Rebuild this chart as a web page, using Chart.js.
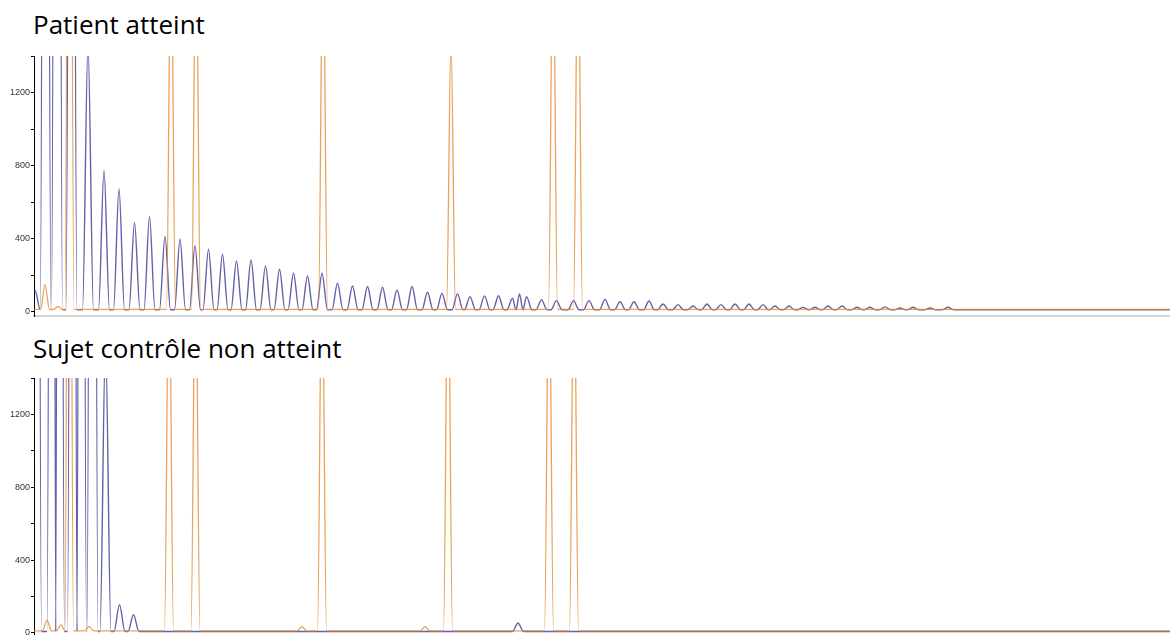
<!DOCTYPE html>
<html>
<head>
<meta charset="utf-8">
<script src="https://cdn.jsdelivr.net/npm/chart.js@4/dist/chart.umd.min.js"></script>
<style>
  html, body { margin: 0; padding: 0; background: #fff; overflow: hidden; }
  #page { position: relative; width: 1170px; height: 635px; }
  .title { position: absolute; left: 33px; font-family: "Open Sans", sans-serif; font-size: 26px; line-height: 26px; color: #000; white-space: nowrap; }
  canvas { position: absolute; left: 0; }
</style>
</head>
<body>
<div id="page">
  <div class="title" style="top: 11px;">Patient atteint</div>
  <canvas id="chart-patient" width="1170" height="280" style="top: 46px;"></canvas>
  <div class="title" style="top: 335px;">Sujet contrôle non atteint</div>
  <canvas id="chart-control" width="1170" height="280" style="top: 368px;"></canvas>
</div>

<script>
// position des pics (unités de scan) et hauteur (RFU)

// Patient atteint - trace bleue (RP-PCR)
const patientBluePos = [1, 11.5, 23, 37.5, 54, 70, 85, 100.5, 115.5, 131, 146, 161, 174.5, 188.5, 202.5, 217,
  231.5, 245.5, 259.5, 273.5, 288, 303.5, 318.5, 333.5, 348.5, 363, 378, 393.5, 408, 423.5, 436, 450.5,
  464.5, 478.5, 485.5, 492.5, 507.5, 522.5, 539.5, 555, 571, 586, 600, 615, 629, 644, 659, 673, 687,
  701, 715, 729, 741, 755, 769, 781, 794, 808, 823, 836, 851, 866, 879, 896, 914];
const patientBlueHeight = [120, 8000, 9000, 7000, 1460, 772, 674, 489, 522, 413, 398, 362, 343, 316, 279, 285,
  252, 234, 212, 197, 212, 157, 142, 139, 135, 120, 139, 108, 102, 99, 84, 88,
  89, 75, 99, 84, 66, 62, 62, 62, 69, 56, 56, 60, 44, 40, 33, 44, 40,
  44, 44, 40, 33, 33, 25, 26, 33, 33, 26, 26, 28, 22, 26, 22, 26];

// Patient atteint - trace orange (marqueur de taille)
const patientOrangePos = [11, 24, 35.5, 137, 162, 289, 417, 519, 544];
const patientOrangeHeight = [150, 30, 5000, 2100, 2100, 2100, 1480, 2100, 2100];

// Sujet contrôle - trace bleue
const controlBluePos = [2, 18.5, 25, 39, 47, 58.5, 71.5, 85.5, 99.5, 484];
const controlBlueHeight = [9000, 9000, 9000, 9000, 9000, 9000, 1600, 155, 100, 55];

// Sujet contrôle - trace orange
const controlOrangePos = [13, 27, 35, 55, 135, 161.5, 268, 288, 391, 414, 515, 540];
const controlOrangeHeight = [70, 45, 5000, 35, 2100, 2100, 35, 2100, 35, 2100, 2100, 2100];

const baselines = { patientBlue: 12, patientOrange: 14, controlBlue: 8, controlOrange: 12 };

// axe Y : graduations tous les 200, libellés tous les 400
const yTickValues = [0, 200, 400, 600, 800, 1000, 1200, 1400];
const yTickLabels = ['0', '', '400', '', '800', '', '1200', ''];

const X_MIN = 0;
const X_MAX = 1136;
const Y_MIN = -22;
const Y_MAX = 1400;
const PEAK_HALF_WIDTH = { blue: 5.5, orange: 4.5 };

const BLUE = 'rgba(45, 45, 140, 0.75)';
const ORANGE = 'rgba(228, 140, 50, 0.8)';

// chaque pic = pied gauche, sommet, pied droit ; la ligne de base relie les pics
function buildTrace(pos, heights, base, hw) {
    const pts = [{ x: Math.min(X_MIN, pos[0] - hw), y: base }];
    const add = (x, y) => {
        const last = pts[pts.length - 1];
        if (x > last.x) pts.push({ x: x, y: y });
    };
    for (let i = 0; i < pos.length; i++) {
        const left = i > 0 ? Math.min(hw, (pos[i] - pos[i - 1]) / 2) : hw;
        const right = i < pos.length - 1 ? Math.min(hw, (pos[i + 1] - pos[i]) / 2) : hw;
        add(pos[i] - left, base);
        add(pos[i], heights[i]);
        add(pos[i] + right, base);
    }
    add(X_MAX, base);
    return pts;
}

function makeChart(canvasId, blueData, orangeData, padBottom) {
    const ctx = document.getElementById(canvasId);
    return new Chart(ctx, {
        type: 'line',
        data: {
            datasets: [
                { data: orangeData, borderColor: ORANGE, borderWidth: 1.3 },
                { data: blueData, borderColor: BLUE, borderWidth: 1.4 }
            ]
        },
        options: {
            responsive: false,
            animation: false,
            layout: { padding: { top: 10, bottom: padBottom, left: 0, right: 0 } },
            elements: {
                point: { radius: 0 },
                line: { cubicInterpolationMode: 'monotone', borderJoinStyle: 'round', fill: false }
            },
            plugins: { legend: { display: false }, tooltip: { enabled: false } },
            scales: {
                x: {
                    type: 'linear',
                    min: X_MIN,
                    max: X_MAX,
                    ticks: { display: false },
                    grid: { display: false },
                    border: { display: true, color: '#d4d4d4', width: 2 },
                    afterFit: function (scale) { scale.height = 0; }
                },
                y: {
                    min: Y_MIN,
                    max: Y_MAX,
                    afterBuildTicks: function (scale) {
                        scale.ticks = yTickValues.map(v => ({ value: v }));
                    },
                    ticks: {
                        autoSkip: false,
                        padding: 1,
                        color: '#333',
                        font: { family: 'Liberation Sans', size: 9 },
                        callback: function (value, index) {
                            return yTickLabels[index];
                        }
                    },
                    grid: { drawOnChartArea: false, drawTicks: true, tickLength: 3, color: '#000' },
                    border: { display: true, color: '#000', width: 1 },
                    afterFit: function (scale) { scale.width = 34; }
                }
            }
        }
    });
}

makeChart('chart-patient',
    buildTrace(patientBluePos, patientBlueHeight, baselines.patientBlue, PEAK_HALF_WIDTH.blue),
    buildTrace(patientOrangePos, patientOrangeHeight, baselines.patientOrange, PEAK_HALF_WIDTH.orange),
    10);

makeChart('chart-control',
    buildTrace(controlBluePos, controlBlueHeight, baselines.controlBlue, PEAK_HALF_WIDTH.blue),
    buildTrace(controlOrangePos, controlOrangeHeight, baselines.controlOrange, PEAK_HALF_WIDTH.orange),
    11);
</script>
</body>
</html>
